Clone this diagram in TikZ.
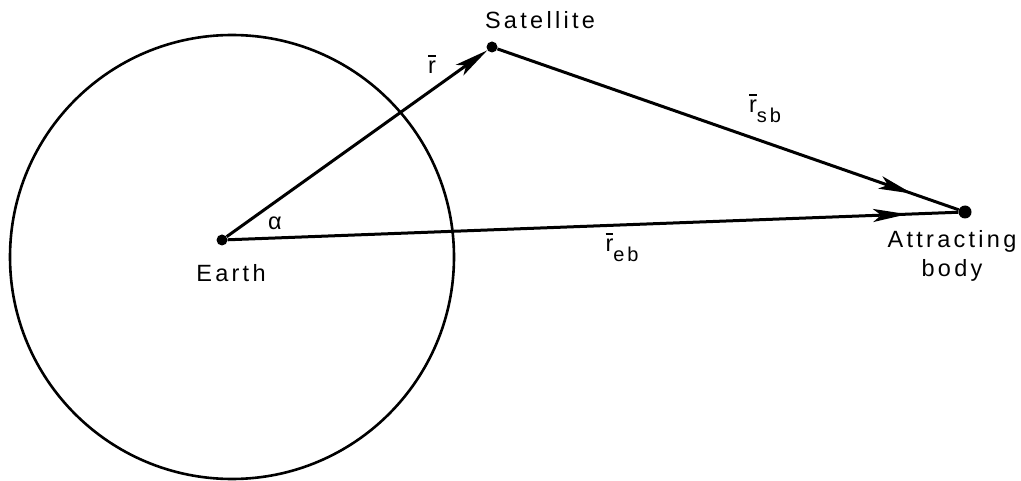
\documentclass[tikz,border=0pt]{standalone}
\usepackage{fontspec}
\setmainfont{Liberation Sans}[LetterSpace=14]
\usetikzlibrary{arrows.meta,decorations.markings}
\newcommand{\rvec}[1]{\makebox[0pt][l]{\rule[0.7em]{0.32em}{0.09em}}r\raisebox{-0.42em}{\fontsize{20}{20}\selectfont #1}}
\tikzset{
  vec/.style={line width=3pt},
  dot/.style={circle,fill,inner sep=0pt,minimum size=#1},
  dot/.default=10pt,
  lbl/.style={font=\fontsize{23.5}{29}\selectfont,align=center,inner sep=0pt},
  tipat/.style={postaction={decorate},decoration={markings,
    mark=at position #1 with {\arrow{Stealth[length=34pt,width=13pt,inset=8pt]}}}}
}
\begin{document}
\begin{tikzpicture}[x=1pt,y=-1pt]
\useasboundingbox (0,0) rectangle (1021,481);
\draw[line width=2.6pt] (232,257) circle[radius=222pt];

\node[dot=11pt] (earth) at (222,240) {};
\node[dot=11pt] (sat) at (492,47) {};
\node[dot=13pt] (body) at (965,212) {};

\draw[vec,-{Stealth[length=34pt,width=13pt,inset=8pt]}] (earth) -- (sat);
\draw[vec,tipat=0.9] (sat) -- (body);
\draw[vec,tipat=0.93] (earth) -- (body);

\node[lbl] (satlbl) at (540,20) {Satellite};
\node[lbl] (earthlbl) at (231,273) {Earth};
\node[lbl] (bodylbl) at (952,256) {Attracting\\body};
\node[lbl] (alpha) at (275,223) {α};
\node[lbl] (r) at (432,69) {\rvec{}};
\node[lbl] (rsb) at (765,108) {\rvec{sb}};
\node[lbl] (reb) at (622,247) {\rvec{eb}};
\end{tikzpicture}
\end{document}
